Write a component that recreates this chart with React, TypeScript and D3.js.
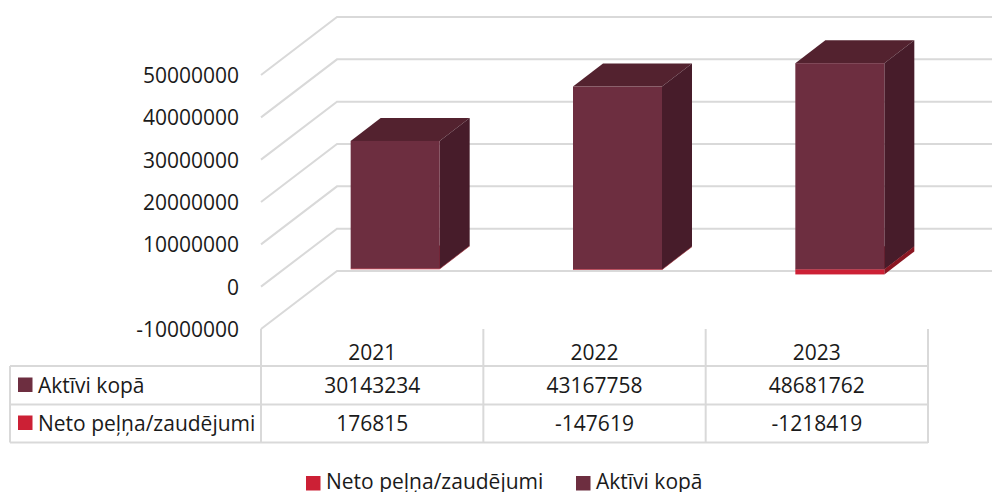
import React from 'react';
import * as d3 from 'd3';

const years = ['2021', '2022', '2023'];
const assets = [30143234, 43167758, 48681762];
const profit = [176815, -147619, -1218419];
const yTicks = [-10000000, 0, 10000000, 20000000, 30000000, 40000000, 50000000];
const gridTicks = [-10000000, 0, 10000000, 20000000, 30000000, 40000000, 50000000];
const assetsName = 'Aktīvi kopā';
const profitName = 'Neto peļņa/zaudējumi';

const FONT = '"Open Sans", sans-serif';
const TEXT = '#1a1a1a';
const GRID = '#d9d9d9';
const ASSET = { front: '#6d2e40', top: '#53222f', side: '#471c2a' };
const RED = { front: '#cc2035', top: '#9a1826', side: '#8a1622' };
const FS = 21;

const y = d3.scaleLinear().domain([-10000000, 50000000]).range([329, 75]);
const x = d3.scaleBand().domain(years).range([261, 928]);

const wallDx = 76, wallDy = -58;
const barShiftX = 23, barShiftY = -17.4;
const depthX = 30, depthY = -23;
const barW = 89;

function Box({ x0, v0, v1, c }: { x0: number; v0: number; v1: number; c: typeof ASSET }) {
  const t = y(Math.max(v0, v1)) + barShiftY;
  const b = y(Math.min(v0, v1)) + barShiftY;
  const r = x0 + barW;
  const poly = (p: number[][]) => p.map((q) => q.join(',')).join(' ');
  return (
    <g>
      <polygon fill={c.top} points={poly([[x0, t], [r, t], [r + depthX, t + depthY], [x0 + depthX, t + depthY]])} />
      <polygon fill={c.side} points={poly([[r, t], [r + depthX, t + depthY], [r + depthX, b + depthY], [r, b]])} />
      <rect x={x0} y={t} width={barW} height={b - t} fill={c.front} />
    </g>
  );
}

export default function App() {
  const rows = [
    { name: assetsName, color: ASSET.front, vals: assets, cy: 385 },
    { name: profitName, color: RED.front, vals: profit, cy: 423 },
  ];
  const cols = x.domain().map((d) => x(d)!);
  return (
    <svg width={992} height={492} style={{ position: 'absolute', left: 0, top: 0, background: '#fff' }} fontFamily={FONT} fill={TEXT}>
      {gridTicks.map((t) => (
        <polyline key={t} fill="none" stroke={GRID} strokeWidth={2}
          points={`${261},${y(t)} ${261 + wallDx},${y(t) + wallDy} 992,${y(t) + wallDy}`} />
      ))}
      {years.map((yr, i) => {
        const x0 = x(yr)! + x.bandwidth() / 2 - barW / 2 + barShiftX;
        const a = assets[i], p = profit[i];
        const aBase = p > 0 ? p : 0;
        return (
          <g key={yr}>
            <Box x0={x0} v0={Math.min(p, 0)} v1={Math.max(p, 0)} c={RED} />
            <Box x0={x0} v0={aBase} v1={aBase + a} c={ASSET} />
          </g>
        );
      })}
      {yTicks.map((t) => (
        <text key={t} x={239} y={y(t) + 0.5} dy="0.36em" textAnchor="end" fontSize={FS}>{t}</text>
      ))}
      <g stroke={GRID} strokeWidth={2} fill="none">
        <path d="M10,366H928M10,404.5H928M10,442.5H928M10,366V442.5" />
        {[...cols, 928].map((c) => <path key={c} d={`M${c},329V443`} />)}
      </g>
      {years.map((yr) => (
        <text key={yr} x={x(yr)! + x.bandwidth() / 2} y={352.5} dy="0.36em" textAnchor="middle" fontSize={FS}>{yr}</text>
      ))}
      {rows.map((r) => (
        <g key={r.name}>
          <rect x={18} y={r.cy - 7.5} width={14.5} height={14.5} fill={r.color} />
          <text x={38} y={r.cy} dy="0.36em" fontSize={FS}>{r.name}</text>
          {r.vals.map((v, i) => (
            <text key={i} x={x(years[i])! + x.bandwidth() / 2} y={r.cy} dy="0.36em" textAnchor="middle" fontSize={FS}>{v}</text>
          ))}
        </g>
      ))}
      <rect x={306} y={476} width={14.5} height={14.5} fill={RED.front} />
      <text x={326} y={489} fontSize={FS}>{profitName}</text>
      <rect x={576} y={476} width={14.5} height={14.5} fill={ASSET.front} />
      <text x={596} y={489} fontSize={FS}>{assetsName}</text>
    </svg>
  );
}
